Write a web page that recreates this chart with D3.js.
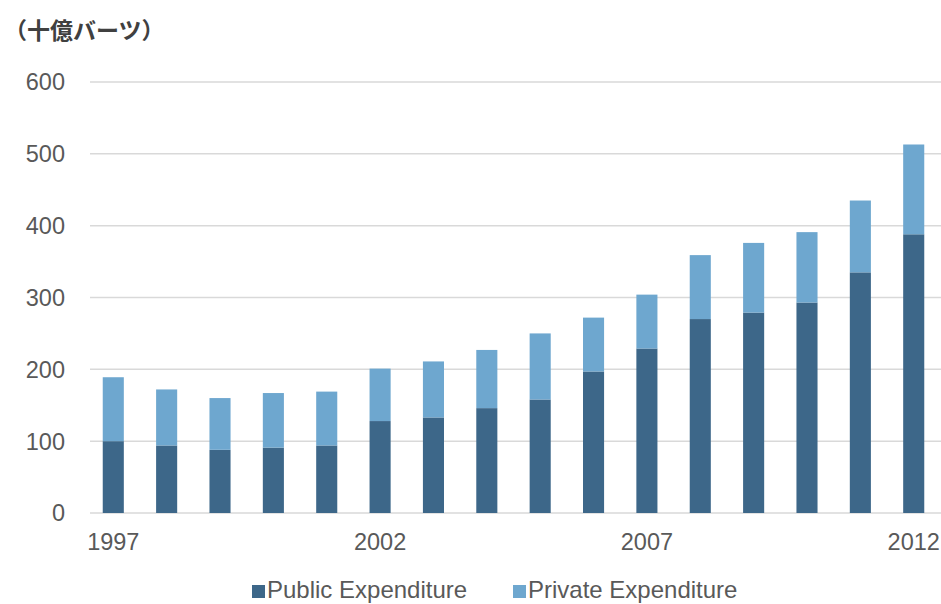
<!DOCTYPE html>
<html lang="ja">
<head>
<meta charset="UTF-8">
<title>Expenditure</title>
<script src="https://d3js.org/d3.v7.min.js"></script>
<style>
  body { margin: 0; background: #fff; }
  text { font-family: "Liberation Sans", Arial, sans-serif; }
</style>
</head>
<body>
<svg id="main" width="941" height="604"></svg>
<script>
// data (billion baht)
const years = ["1997","1998","1999","2000","2001","2002","2003","2004","2005","2006","2007","2008","2009","2010","2011","2012"];
const publicExp  = [100, 94, 88, 91, 94, 128, 133, 146, 158, 197, 229, 270, 279, 293, 335, 388];
const privateExp = [89, 78, 72, 76, 75, 73, 78, 81, 92, 75, 75, 89, 97, 98, 100, 125];
const yTicks = [0, 100, 200, 300, 400, 500, 600];
const xLabels = ["1997", "2002", "2007", "2012"];
const seriesNames = ["Public Expenditure", "Private Expenditure"];
const colors = ["#3d6789", "#6ea7cf"];

let svg = d3.select("svg#main");

let rows = years.map(function(y, i){ return {year: y, pub: publicExp[i], priv: privateExp[i]}; });
let stacked = d3.stack().keys(["pub", "priv"])(rows);

let x = d3.scaleBand().domain(years).range([86.6, 940.4]).paddingInner(0.605).paddingOuter(0.3025);
let y = d3.scaleLinear().domain([0, 600]).range([513, 82]);

// gridlines
svg.append("g").selectAll("line")
    .data(yTicks)
    .join("line")
    .attr("x1", 90).attr("x2", 941)
    .attr("y1", function(d){ return y(d); })
    .attr("y2", function(d){ return y(d); })
    .style("stroke", "#d9d9d9")
    .style("stroke-width", "1.5px");

// y labels
svg.append("g").selectAll("text")
    .data(yTicks)
    .join("text")
    .attr("x", 65)
    .attr("y", function(d){ return y(d); })
    .attr("dy", "0.36em")
    .attr("text-anchor", "end")
    .style("font-size", "23.5px")
    .style("fill", "#595959")
    .text(function(d){ return d; });

// bars
let series = svg.selectAll("g.series")
    .data(stacked)
    .join("g")
    .attr("class", "series")
    .style("fill", function(d, i){ return colors[i]; });
series.selectAll("rect")
    .data(function(d){ return d; })
    .join("rect")
    .attr("x", function(d){ return x(d.data.year); })
    .attr("width", x.bandwidth())
    .attr("y", function(d){ return y(d[1]); })
    .attr("height", function(d){ return y(d[0]) - y(d[1]); });

// x labels
svg.append("g").selectAll("text")
    .data(xLabels)
    .join("text")
    .attr("x", function(d){ return x(d) + x.bandwidth() / 2; })
    .attr("y", 550)
    .attr("text-anchor", "middle")
    .style("font-size", "23.5px")
    .style("fill", "#595959")
    .text(function(d){ return d; });

// unit title
svg.append("text")
    .attr("x", 4)
    .attr("y", 39)
    .style("font-family", "'Noto Sans CJK JP', sans-serif")
    .style("font-size", "23px")
    .style("font-weight", "bold")
    .style("fill", "#404040")
    .text("（十億バーツ）");

// legend
let legX = [252, 513];
let leg = svg.append("g").selectAll("g")
    .data(seriesNames)
    .join("g")
    .attr("transform", function(d, i){ return "translate(" + legX[i] + ",0)"; });
leg.append("rect")
    .attr("x", 0).attr("y", 585)
    .attr("width", 13).attr("height", 13)
    .style("fill", function(d, i){ return colors[i]; });
leg.append("text")
    .attr("x", 15)
    .attr("y", 598)
    .style("font-size", "24px")
    .style("fill", "#595959")
    .text(function(d){ return d; });
</script>
</body>
</html>
